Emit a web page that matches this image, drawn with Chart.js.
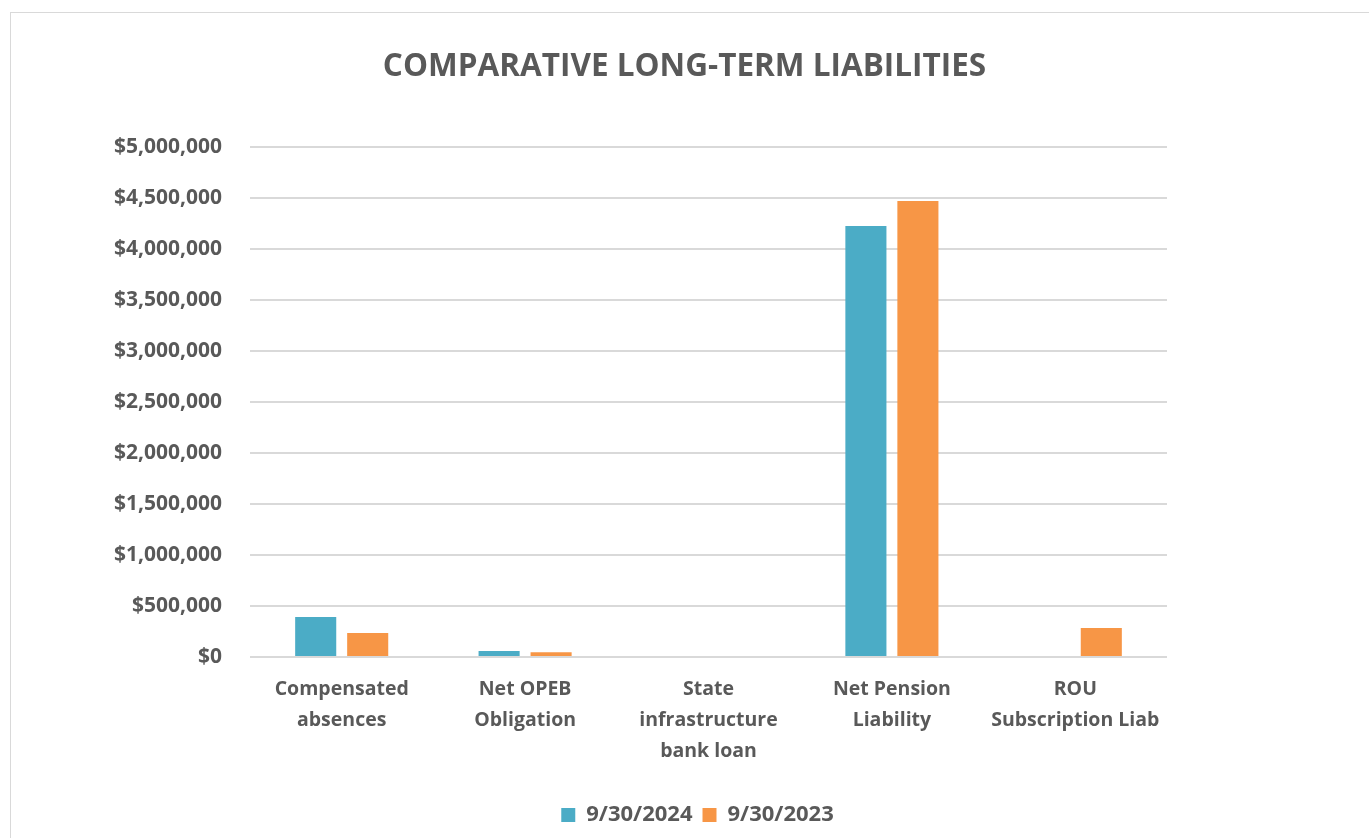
<!DOCTYPE html>
<html>
<head>
<meta charset="utf-8">
<script src="https://cdn.jsdelivr.net/npm/chart.js@4/dist/chart.umd.min.js"></script>
<style>
  html, body { margin: 0; padding: 0; background: #fff; overflow: hidden; }
  #moldura { position: absolute; left: 10px; top: 12px; width: 1400px; height: 900px; border: 1px solid #d9d9d9; }
  #caixa { position: absolute; left: 0; top: 0; width: 1369px; height: 838px; }
</style>
</head>
<body>
<div id="moldura"></div>
<div id="caixa"><canvas id="grafico"></canvas></div>
<script>
var categorias = [
  ["Compensated", "absences"],
  ["Net OPEB", "Obligation"],
  ["State", "infrastructure", "bank loan"],
  ["Net Pension", "Liability"],
  ["ROU", "Subscription Liab"]
];
var rotulo2024 = "9/30/2024";
var rotulo2023 = "9/30/2023";
var valores2024 = [392000, 59000, 0, 4225000, 0];
var valores2023 = [235000, 47000, 0, 4470000, 284000];
var titulo = "COMPARATIVE LONG-TERM LIABILITIES";

var corTexto = "#595959";
var fonte = "'Open Sans', sans-serif";

function moeda(v) {
  return "$" + Number(v).toLocaleString("en-US");
}

// legenda um pouco deslocada para a direita, como no original
var deslocaLegenda = {
  id: "deslocaLegenda",
  afterLayout: function (chart) {
    if (!chart.legend) return;
    chart.legend.left += 13;
    chart.legend.right += 13;
  }
};

function init() {
  var ctx = document.getElementById("grafico").getContext("2d");
  new Chart(ctx, {
    type: "bar",
    data: {
      labels: categorias,
      datasets: [
        { label: rotulo2024, data: valores2024, backgroundColor: "#4bacc6", borderWidth: 0 },
        { label: rotulo2023, data: valores2023, backgroundColor: "#f79646", borderWidth: 0 }
      ]
    },
    plugins: [deslocaLegenda],
    options: {
      responsive: true,
      maintainAspectRatio: false,
      animation: false,
      layout: { padding: { left: 0, right: 0, top: 0, bottom: 2 } },
      datasets: { bar: { categoryPercentage: 0.567, barPercentage: 0.79 } },
      plugins: {
        title: {
          display: true,
          text: titulo,
          color: corTexto,
          font: { family: fonte, size: 31.5, weight: "bold" },
          padding: { top: 48, bottom: 61 }
        },
        legend: {
          position: "bottom",
          labels: {
            color: corTexto,
            font: { family: fonte, size: 22, weight: "bold" },
            boxWidth: 14,
            boxHeight: 14,
            padding: 10
          }
        },
        tooltip: { enabled: false }
      },
      scales: {
        x: {
          grid: { display: false, drawTicks: false },
          border: { display: false },
          ticks: {
            color: corTexto,
            font: { family: fonte, size: 19.5, weight: "bold", lineHeight: 1.59 },
            padding: 17,
            maxRotation: 0,
            autoSkip: false
          },
          afterFit: function (s) { s.height = 137; }
        },
        y: {
          min: 0,
          max: 5000000,
          grid: { color: "#d9d9d9", lineWidth: 2, drawTicks: false },
          border: { display: false },
          ticks: {
            stepSize: 500000,
            color: corTexto,
            font: { family: fonte, size: 21, weight: "bold" },
            padding: 28,
            callback: function (v) { return moeda(v); }
          },
          afterFit: function (s) { s.width = 250; }
        },
        direita: {
          position: "right",
          display: true,
          grid: { display: false, drawTicks: false },
          border: { display: false },
          ticks: { display: false },
          afterFit: function (s) { s.width = 202; }
        }
      }
    }
  });
}
window.addEventListener("DOMContentLoaded", init);
</script>
</body>
</html>
